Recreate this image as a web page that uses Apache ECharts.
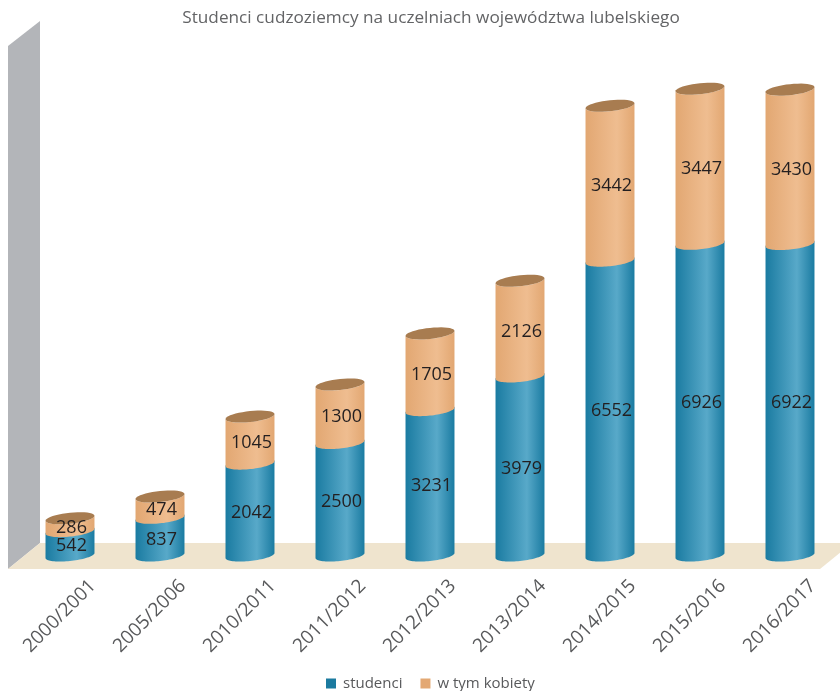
<!DOCTYPE html>
<html><head><meta charset="utf-8">
<style>html,body{margin:0;padding:0;background:#fff}#c{width:840px;height:691px}</style>
<script src="https://cdn.jsdelivr.net/npm/echarts@6/dist/echarts.min.js"></script>
</head><body><div id="c"></div>
<script>
const categories = ['2000/2001','2005/2006','2010/2011','2011/2012','2012/2013','2013/2014','2014/2015','2015/2016','2016/2017'];
const studenci = [542,837,2042,2500,3231,3979,6552,6926,6922];
const kobiety = [286,474,1045,1300,1705,2126,3442,3447,3430];
const titleText = 'Studenci cudzoziemcy na uczelniach województwa lubelskiego';
const FONT = '"Open Sans"';
const TILT = 5, BULGE = 5.5, STEPS = 40;

function gradient(edge, mid){
  return new echarts.graphic.LinearGradient(0,0,1,0,[
    {offset:0,color:edge},{offset:0.64,color:mid},{offset:1,color:edge}]);
}
function arc(cx, a, cy, from, to){
  const pts=[];
  for(let k=0;k<=STEPS;k++){
    const th=from+(to-from)*k/STEPS;
    pts.push([cx+a*Math.cos(th), cy-(TILT/2)*Math.cos(th)+BULGE*Math.sin(th)]);
  }
  return pts;
}
function cylinder(baseOf, edge, mid, hasCap){
  return function(params, api){
    const i=api.value(0), v=api.value(1), base=baseOf[i];
    const cx=api.coord([i,0])[0], a=api.size([1,0])[0]*0.272;
    const y0=api.coord([i,base])[1]-TILT/2, y1=api.coord([i,base+v])[1]-TILT/2;
    // side wall: lower arc of the bottom end, then the arc of the top end
    const top=hasCap?arc(cx,a,y1,Math.PI,0):arc(cx,a,y1,Math.PI,2*Math.PI);
    const bottom=arc(cx,a,y0,0,Math.PI);
    const children=[{type:'polygon',shape:{points:top.concat(bottom)},style:{fill:gradient(edge,mid)}}];
    if(hasCap){
      children.push({type:'polygon',shape:{points:arc(cx,a,y1,0,2*Math.PI)},style:{fill:'#a87c50'}});
    }
    children.push({type:'text',z2:10,style:{text:String(v),x:cx+1.5,y:(y0+y1)/2+TILT/2+0.5,
      align:'center',verticalAlign:'middle',fill:'#231f20',font:'18px '+FONT}});
    return {type:'group',children};
  };
}
const zeros=categories.map(()=>0);
const chart=echarts.init(document.getElementById('c'),null,{renderer:'canvas'});
chart.setOption({
  animation:false,
  title:{text:titleText,left:426,top:5,textAlign:'center',
    textStyle:{fontFamily:FONT,fontSize:17.2,fontWeight:'normal',color:'#636466'}},
  grid:{left:25,width:810,top:18,height:540},
  xAxis:{type:'category',data:categories,
    axisLine:{show:false},axisTick:{show:false},
    axisLabel:{rotate:45,interval:0,align:'center',verticalAlign:'middle',margin:48,padding:[0,29,0,0],
      fontFamily:FONT,fontSize:19,color:'#58595b'}},
  yAxis:{type:'value',min:0,max:12000,show:false},
  legend:{left:321,top:671,itemWidth:10,itemHeight:10,itemGap:18,icon:'rect',
    textStyle:{fontFamily:FONT,fontSize:15,color:'#58595b',padding:[0,0,0,2]},
    data:['studenci','w tym kobiety']},
  graphic:[
    {type:'polygon',z:-1,shape:{points:[[8,46],[40,21],[40,543],[8,569]]},
      style:{fill:'#b3b5b9'}},
    {type:'polygon',z:-1,shape:{points:[[8,569],[40,543],[852,543],[820,569]]},
      style:{fill:'#efe4ce'}}
  ],
  series:[
    {name:'studenci',type:'custom',z:3,itemStyle:{color:'#1b7a9f'},
      renderItem:cylinder(zeros,'#1a7ba1','#58a9c9',false),
      encode:{x:0,y:1},data:studenci.map((v,i)=>[i,v])},
    {name:'w tym kobiety',type:'custom',z:4,itemStyle:{color:'#e3a873'},
      renderItem:cylinder(studenci,'#e2a772','#efbd90',true),
      encode:{x:0,y:1},data:kobiety.map((v,i)=>[i,v])}
  ]
});
</script></body></html>
